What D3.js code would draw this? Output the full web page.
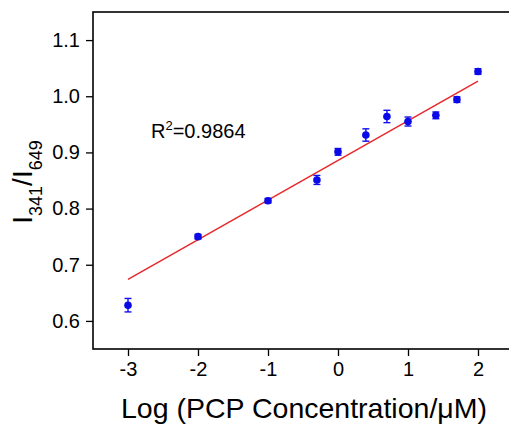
<!DOCTYPE html>
<html>
<head>
<meta charset="utf-8">
<script src="https://cdn.jsdelivr.net/npm/d3@7"></script>
<style>
    body { margin: 0; background: #fff; overflow: hidden; }
    text { font-family: "Liberation Sans", Arial, sans-serif; fill: #000; }
</style>
</head>
<body>
<svg id="chart" width="509" height="430"></svg>
<script>
// log concentration values (x) and ratio I341/I649 (y)
var logConc = [-3, -2, -1, -0.301, 0, 0.398, 0.699, 1, 1.398, 1.699, 2];
var ratio   = [0.628, 0.750, 0.814, 0.851, 0.901, 0.931, 0.964, 0.955, 0.966, 0.994, 1.044];
var ratioErr = [0.012, 0.004, 0.004, 0.008, 0.006, 0.011, 0.011, 0.008, 0.006, 0.005, 0.005];

// fitted line end points
var fitX = [-3, 2];
var fitY = [0.674, 1.027];

var xTicks = [-3, -2, -1, 0, 1, 2];
var yTicks = [0.6, 0.7, 0.8, 0.9, 1.0, 1.1];
var r2Label = "0.9864";

(function()
{
    "use strict";

    const LEFT = 93;
    const RIGHT = 513;
    const TOP = 12;
    const BOTTOM = 349;

    var svg = d3.select("#chart");

    var x = d3.scaleLinear().domain([-3.5, 2.5]).range([LEFT, RIGHT]);
    var y = d3.scaleLinear().domain([0.55, 1.15]).range([BOTTOM, TOP]);

    var data = logConc.map(function(v, i) { return { x: v, y: ratio[i], e: ratioErr[i] }; });

    // axes
    var xAxis = svg.append("g")
        .attr("transform", "translate(0," + BOTTOM + ")")
        .call(d3.axisBottom(x).tickValues(xTicks).tickSize(7).tickPadding(6)
            .tickFormat(d3.format("d")));
    var yAxis = svg.append("g")
        .attr("transform", "translate(" + LEFT + ",0)")
        .call(d3.axisLeft(y).tickValues(yTicks).tickSize(7).tickPadding(6)
            .tickFormat(d3.format(".1f")));

    [xAxis, yAxis].forEach(function(a)
    {
        a.select(".domain").remove();
        a.selectAll(".tick line").attr("stroke", "#000").attr("stroke-width", 1.3);
        a.selectAll(".tick text")
            .style("font-size", "20px")
            .style("font-family", "Liberation Sans, Arial, sans-serif")
            .attr("fill", "#000");
    });
    xAxis.selectAll(".tick text").text(function(d) { return d < 0 ? "-" + Math.abs(d) : d; });

    // frame (right side runs past the window edge)
    svg.append("rect")
        .attr("x", LEFT)
        .attr("y", TOP)
        .attr("width", RIGHT + 10 - LEFT)
        .attr("height", BOTTOM - TOP)
        .attr("fill", "none")
        .attr("stroke", "#000")
        .attr("stroke-width", 1.6);

    // fit line
    svg.append("line")
        .attr("x1", x(fitX[0]))
        .attr("y1", y(fitY[0]))
        .attr("x2", x(fitX[1]))
        .attr("y2", y(fitY[1]))
        .attr("stroke", "#e8282b")
        .attr("stroke-width", 1.5);

    // error bars
    var eb = svg.append("g").attr("stroke", "#1010f0").attr("stroke-width", 1.4)
        .selectAll("g").data(data).enter().append("g");

    eb.append("line")
        .attr("x1", function(d) { return x(d.x); })
        .attr("x2", function(d) { return x(d.x); })
        .attr("y1", function(d) { return y(d.y - d.e); })
        .attr("y2", function(d) { return y(d.y + d.e); });
    eb.append("line")
        .attr("x1", function(d) { return x(d.x) - 3.5; })
        .attr("x2", function(d) { return x(d.x) + 3.5; })
        .attr("y1", function(d) { return y(d.y - d.e); })
        .attr("y2", function(d) { return y(d.y - d.e); });
    eb.append("line")
        .attr("x1", function(d) { return x(d.x) - 3.5; })
        .attr("x2", function(d) { return x(d.x) + 3.5; })
        .attr("y1", function(d) { return y(d.y + d.e); })
        .attr("y2", function(d) { return y(d.y + d.e); });

    // points
    svg.append("g").selectAll("circle").data(data).enter().append("circle")
        .attr("cx", function(d) { return x(d.x); })
        .attr("cy", function(d) { return y(d.y); })
        .attr("r", 3.8)
        .attr("fill", "#0a0ae8");

    // R^2 label
    var r2 = svg.append("text")
        .attr("x", 151)
        .attr("y", 138)
        .style("font-size", "20px");
    r2.append("tspan").text("R");
    r2.append("tspan").attr("dy", -8).style("font-size", "13px").text("2");
    r2.append("tspan").attr("dy", 8).text("=" + r2Label);

    // x axis title
    svg.append("text")
        .attr("x", 304)
        .attr("y", 418)
        .attr("text-anchor", "middle")
        .style("font-size", "28.5px")
        .text("Log (PCP Concentration/\u03bcM)");

    // y axis title
    var yt = svg.append("text")
        .attr("transform", "translate(32,182) rotate(-90)")
        .attr("text-anchor", "middle")
        .style("font-size", "28px");
    yt.append("tspan").text("I");
    yt.append("tspan").attr("dy", 10).style("font-size", "18px").text("341");
    yt.append("tspan").attr("dy", -10).text("/I");
    yt.append("tspan").attr("dy", 10).style("font-size", "18px").text("649");
})();
</script>
</body>
</html>
